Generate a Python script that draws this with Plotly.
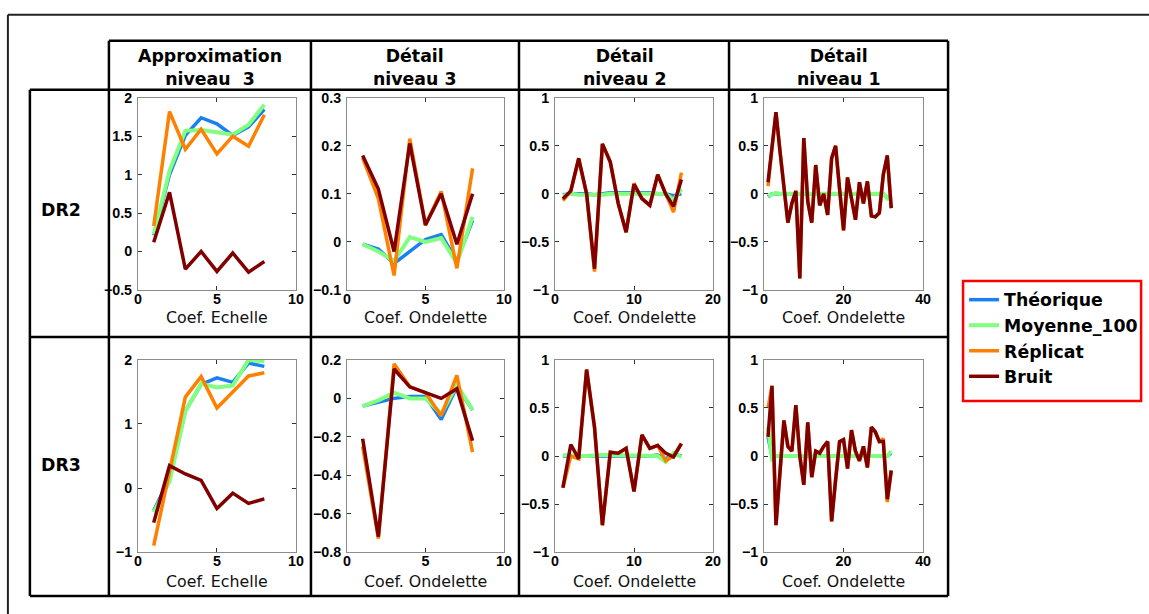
import plotly.graph_objects as go

# figure is a bit larger than the window; the capture shows it slightly shrunk
W, H = 1162, 632
SX, BX = 0.9895, 4.1
SY, BY = 0.974, 6.3
FS = 1.02  # font compensation for the shrink

# x positions (coefficient index)
x8 = list(range(1, 9))
x16 = list(range(1, 17))
x32 = list(range(1, 33))

series_names = ["Théorique", "Moyenne_100", "Réplicat", "Bruit"]
series_colors = ["#1a7ff0", "#80ff80", "#ff8000", "#800000"]
series_widths = [3.5, 4, 3.5, 3.5]

col_titles = ["Approximation<br>niveau  3", "Détail<br>niveau 3", "Détail<br>niveau 2", "Détail<br>niveau 1"]
row_titles = ["DR2", "DR3"]
x_titles = ["Coef. Echelle", "Coef. Ondelette", "Coef. Ondelette", "Coef. Ondelette"]

# ---- DR2 ----
dr2_a3_theo = [0.21, 1.0, 1.51, 1.74, 1.66, 1.51, 1.62, 1.85]
dr2_a3_moy = [0.22, 1.05, 1.57, 1.58, 1.55, 1.52, 1.65, 1.91]
dr2_a3_rep = [0.33, 1.82, 1.33, 1.59, 1.27, 1.5, 1.37, 1.78]
dr2_a3_bruit = [0.12, 0.77, -0.23, 0.0, -0.26, -0.02, -0.27, -0.13]

dr2_d3_theo = [-0.005, -0.015, -0.045, -0.02, 0.005, 0.015, -0.04, 0.045]
dr2_d3_moy = [-0.005, -0.02, -0.04, 0.01, 0.0, 0.008, -0.045, 0.052]
dr2_d3_rep = [0.175, 0.09, -0.07, 0.215, 0.035, 0.105, -0.055, 0.153]
dr2_d3_bruit = [0.18, 0.11, -0.02, 0.205, 0.035, 0.1, -0.005, 0.1]

dr2_d2_theo = [-0.01, 0.0, 0.0, 0.0, -0.01, 0.0, 0.01, 0.01, 0.01, 0.01, 0.01, 0.01, 0.0, 0.0, -0.02, 0.0]
dr2_d2_moy = [-0.02, 0.0, -0.01, -0.01, -0.02, -0.01, 0.0, 0.0, 0.0, 0.01, 0.01, 0.0, 0.0, 0.0, -0.06, 0.05]
dr2_d2_rep = [-0.07, 0.03, 0.36, 0.0, -0.81, 0.52, 0.33, -0.1, -0.4, 0.11, -0.05, -0.12, 0.2, 0.0, -0.19, 0.22]
dr2_d2_bruit = [-0.05, 0.03, 0.37, 0.0, -0.78, 0.52, 0.33, -0.1, -0.4, 0.1, -0.05, -0.12, 0.2, 0.0, -0.13, 0.15]

dr2_d1_theo = [-0.03, 0.0, 0.0, 0.0, 0.0, 0.0, 0.0, 0.0, 0.0, 0.0, 0.0, 0.0, 0.0, 0.0, 0.0, 0.0,
               0.0, 0.0, 0.0, 0.0, 0.0, 0.0, 0.0, 0.0, 0.0, 0.0, 0.0, 0.0, 0.0, 0.0, -0.04, -0.04]
dr2_d1_moy = [-0.02, 0.0, 0.01, 0.0, 0.0, 0.0, 0.0, 0.0, 0.0, 0.0, 0.0, 0.0, 0.0, 0.0, 0.0, 0.0,
              0.0, 0.0, 0.0, 0.0, 0.0, 0.0, 0.0, 0.0, 0.0, 0.0, 0.0, 0.0, 0.0, 0.0, -0.05, -0.05]
dr2_d1_rep = [0.08, 0.48, 0.85, 0.45, 0.05, -0.3, -0.1, 0.03, -0.88, 0.58, -0.08, -0.3, 0.3, -0.12, 0.0, -0.22,
              0.37, 0.5, 0.05, -0.38, 0.17, -0.05, -0.27, 0.12, -0.1, 0.13, -0.23, -0.24, -0.2, 0.2, 0.38, -0.15]
dr2_d1_bruit = [0.12, 0.48, 0.85, 0.45, 0.05, -0.3, -0.1, 0.03, -0.88, 0.58, -0.08, -0.3, 0.3, -0.12, 0.0, -0.22,
                0.37, 0.5, 0.05, -0.38, 0.17, -0.05, -0.27, 0.12, -0.1, 0.13, -0.23, -0.24, -0.2, 0.2, 0.4, -0.15]

# ---- DR3 ----
dr3_a3_theo = [-0.35, 0.15, 1.2, 1.62, 1.72, 1.65, 1.95, 1.9]
dr3_a3_moy = [-0.38, 0.1, 1.2, 1.63, 1.57, 1.6, 2.0, 1.98]
dr3_a3_rep = [-0.9, 0.28, 1.42, 1.74, 1.25, 1.5, 1.75, 1.8]
dr3_a3_bruit = [-0.54, 0.35, 0.22, 0.12, -0.32, -0.08, -0.24, -0.17]

dr3_d3_theo = [-0.04, -0.02, 0.0, 0.01, 0.01, -0.11, 0.06, -0.06]
dr3_d3_moy = [-0.04, -0.01, 0.03, 0.0, 0.0, -0.08, 0.07, -0.06]
dr3_d3_rep = [-0.25, -0.73, 0.18, 0.06, 0.03, -0.09, 0.12, -0.28]
dr3_d3_bruit = [-0.21, -0.72, 0.153, 0.06, 0.03, 0.0, 0.05, -0.22]

dr3_d2_theo = [0.0, 0.0, 0.0, 0.0, 0.0, 0.0, 0.0, 0.0, 0.0, 0.0, 0.0, 0.0, 0.01, -0.03, 0.02, 0.0]
dr3_d2_moy = [0.01, 0.0, 0.0, 0.0, 0.01, 0.01, 0.01, 0.01, 0.01, 0.01, 0.01, 0.01, 0.0, -0.06, 0.03, -0.01]
dr3_d2_rep = [-0.33, 0.0, -0.03, 0.9, 0.3, -0.72, 0.04, 0.03, 0.08, -0.37, 0.22, 0.08, 0.11, -0.05, 0.0, 0.13]
dr3_d2_bruit = [-0.33, 0.12, -0.03, 0.9, 0.3, -0.72, 0.04, 0.03, 0.08, -0.37, 0.22, 0.08, 0.11, 0.03, -0.01, 0.13]

dr3_d1_theo = [0.2, 0.0, 0.0, 0.0, 0.0, 0.0, 0.0, 0.0, 0.0, 0.0, 0.0, 0.0, 0.0, 0.0, 0.0, 0.0,
               0.0, 0.0, 0.0, 0.0, 0.0, 0.0, 0.0, 0.0, 0.0, 0.0, 0.0, 0.0, 0.0, 0.0, 0.0, 0.03]
dr3_d1_moy = [0.3, -0.03, 0.0, 0.0, 0.0, 0.0, 0.0, 0.0, 0.0, 0.0, 0.0, 0.0, 0.0, 0.0, 0.0, 0.0,
              0.0, 0.0, 0.0, 0.0, 0.0, 0.0, 0.0, 0.0, 0.0, 0.0, 0.0, 0.0, 0.0, 0.0, 0.0, 0.05]
dr3_d1_rep = [0.5, 0.73, -0.72, -0.17, 0.37, 0.1, 0.05, 0.53, 0.0, -0.3, 0.35, -0.22, 0.05, 0.03, 0.1, 0.15,
              -0.68, -0.25, 0.15, 0.17, -0.13, 0.27, 0.05, -0.05, 0.1, -0.12, 0.3, 0.25, 0.15, 0.18, -0.48, -0.15]
dr3_d1_bruit = [0.2, 0.73, -0.72, -0.17, 0.37, 0.1, 0.05, 0.53, 0.0, -0.3, 0.35, -0.22, 0.05, 0.03, 0.1, 0.15,
                -0.68, -0.25, 0.15, 0.17, -0.13, 0.27, 0.05, -0.05, 0.1, -0.12, 0.3, 0.25, 0.15, 0.15, -0.45, -0.15]

panels = [
    (x8, [dr2_a3_theo, dr2_a3_moy, dr2_a3_rep, dr2_a3_bruit], [0, 10], [0, 5, 10], [-0.5, 2], [-0.5, 0, 0.5, 1, 1.5, 2]),
    (x8, [dr2_d3_theo, dr2_d3_moy, dr2_d3_rep, dr2_d3_bruit], [0, 10], [0, 5, 10], [-0.1, 0.3], [-0.1, 0, 0.1, 0.2, 0.3]),
    (x16, [dr2_d2_theo, dr2_d2_moy, dr2_d2_rep, dr2_d2_bruit], [0, 20], [0, 10, 20], [-1, 1], [-1, -0.5, 0, 0.5, 1]),
    (x32, [dr2_d1_theo, dr2_d1_moy, dr2_d1_rep, dr2_d1_bruit], [0, 40], [0, 20, 40], [-1, 1], [-1, -0.5, 0, 0.5, 1]),
    (x8, [dr3_a3_theo, dr3_a3_moy, dr3_a3_rep, dr3_a3_bruit], [0, 10], [0, 5, 10], [-1, 2], [-1, 0, 1, 2]),
    (x8, [dr3_d3_theo, dr3_d3_moy, dr3_d3_rep, dr3_d3_bruit], [0, 10], [0, 5, 10], [-0.8, 0.2], [-0.8, -0.6, -0.4, -0.2, 0, 0.2]),
    (x16, [dr3_d2_theo, dr3_d2_moy, dr3_d2_rep, dr3_d2_bruit], [0, 20], [0, 10, 20], [-1, 1], [-1, -0.5, 0, 0.5, 1]),
    (x32, [dr3_d1_theo, dr3_d1_moy, dr3_d1_rep, dr3_d1_bruit], [0, 40], [0, 20, 40], [-1, 1], [-1, -0.5, 0, 0.5, 1]),
]


def px(x):
    # picture pixel -> paper fraction
    return (x - BX) / SX / W


def py(y):
    return 1 - (y - BY) / SY / H


# plot areas in picture pixels
col_px = [(138, 296), (347, 504), (555, 713), (764, 923)]
row_px = [(96, 288), (358, 550)]

fig = go.Figure()
layout_axes = {}
tick_font = dict(family="Liberation Sans", size=14 * FS, color="black", weight="bold")

for i, (xs, ys_list, xr, xt, yr, yt) in enumerate(panels):
    n = i + 1
    r, c = divmod(i, 4)
    for k, ys in enumerate(ys_list):
        fig.add_trace(go.Scatter(
            x=xs, y=ys, mode="lines",
            name=series_names[k],
            line=dict(color=series_colors[k], width=series_widths[k]),
            xaxis=f"x{n}", yaxis=f"y{n}",
            showlegend=(i == 0),
        ))
    common = dict(showgrid=False, zeroline=False, showline=True, linecolor="#8c8c8c",
                  linewidth=1, mirror="allticks", ticks="inside", ticklen=4,
                  tickcolor="#333333", tickfont=tick_font)
    layout_axes[f"xaxis{n}"] = dict(common, domain=[px(col_px[c][0]), px(col_px[c][1])],
                                    range=xr, tickvals=xt, anchor=f"y{n}",
                                    ticklabelstandoff=-4)
    layout_axes[f"yaxis{n}"] = dict(common, domain=[py(row_px[r][1]), py(row_px[r][0])],
                                    range=yr, tickvals=yt, anchor=f"x{n}",
                                    ticklabelstandoff=2)

# table grid
line_w = 2.5
shapes = []


def seg(x0, y0, x1, y1, w=line_w, color="black"):
    shapes.append(dict(type="line", xref="paper", yref="paper",
                       x0=px(x0), y0=py(y0), x1=px(x1), y1=py(y1),
                       line=dict(color=color, width=w), layer="above"))


# outer frame
seg(8, 13, 1152, 13, 2, "#222222")
seg(8, 13, 8, 618, 2, "#222222")
# header row
seg(109, 39, 948, 39)
for xv in [109, 311, 519, 729, 948]:
    seg(xv, 39, xv, 594)
seg(30, 88, 30, 594)
for yv in [88, 335, 594]:
    seg(30, yv, 948, yv)

# legend frame
shapes.append(dict(type="rect", xref="paper", yref="paper",
                   x0=px(963), y0=py(399), x1=px(1141), y1=py(279),
                   line=dict(color="red", width=2.5), layer="above"))

annotations = []
col_centers = [210, 415, 624, 838]
for cx, t in zip(col_centers, col_titles):
    annotations.append(dict(x=px(cx), y=py(66), xref="paper", yref="paper", text=t,
                            showarrow=False,
                            font=dict(family="DejaVu Sans", size=17 * FS, color="black", weight="bold"),
                            xanchor="center", yanchor="middle"))
for cy, t in zip([208, 463], row_titles):
    annotations.append(dict(x=px(61), y=py(cy), xref="paper", yref="paper", text=t,
                            showarrow=False,
                            font=dict(family="DejaVu Sans", size=17 * FS, color="black", weight="bold"),
                            xanchor="center", yanchor="middle"))
for r, ty in enumerate([316, 579]):
    for c, t in enumerate(x_titles):
        cx = (col_px[c][0] + col_px[c][1]) / 2
        annotations.append(dict(x=px(cx), y=py(ty), xref="paper", yref="paper", text=t,
                                showarrow=False,
                                font=dict(family="DejaVu Sans", size=15.5 * FS, color="#111111"),
                                xanchor="center", yanchor="middle"))

fig.update_layout(
    width=W, height=H,
    margin=dict(l=0, r=0, t=0, b=0),
    paper_bgcolor="white", plot_bgcolor="white",
    shapes=shapes, annotations=annotations,
    legend=dict(x=px(964), y=py(280), xanchor="left", yanchor="top",
                borderwidth=0, bgcolor="rgba(0,0,0,0)",
                font=dict(family="DejaVu Sans", size=17 * FS, color="black", weight="bold"),
                tracegroupgap=0, itemwidth=30),
    **layout_axes,
)

# drop the default page margin so the figure sits at the window origin
fig.write_html("out.html", config={"displayModeBar": False},
               post_script="document.body.style.margin='0';"
                           "document.documentElement.style.overflow='hidden';")
